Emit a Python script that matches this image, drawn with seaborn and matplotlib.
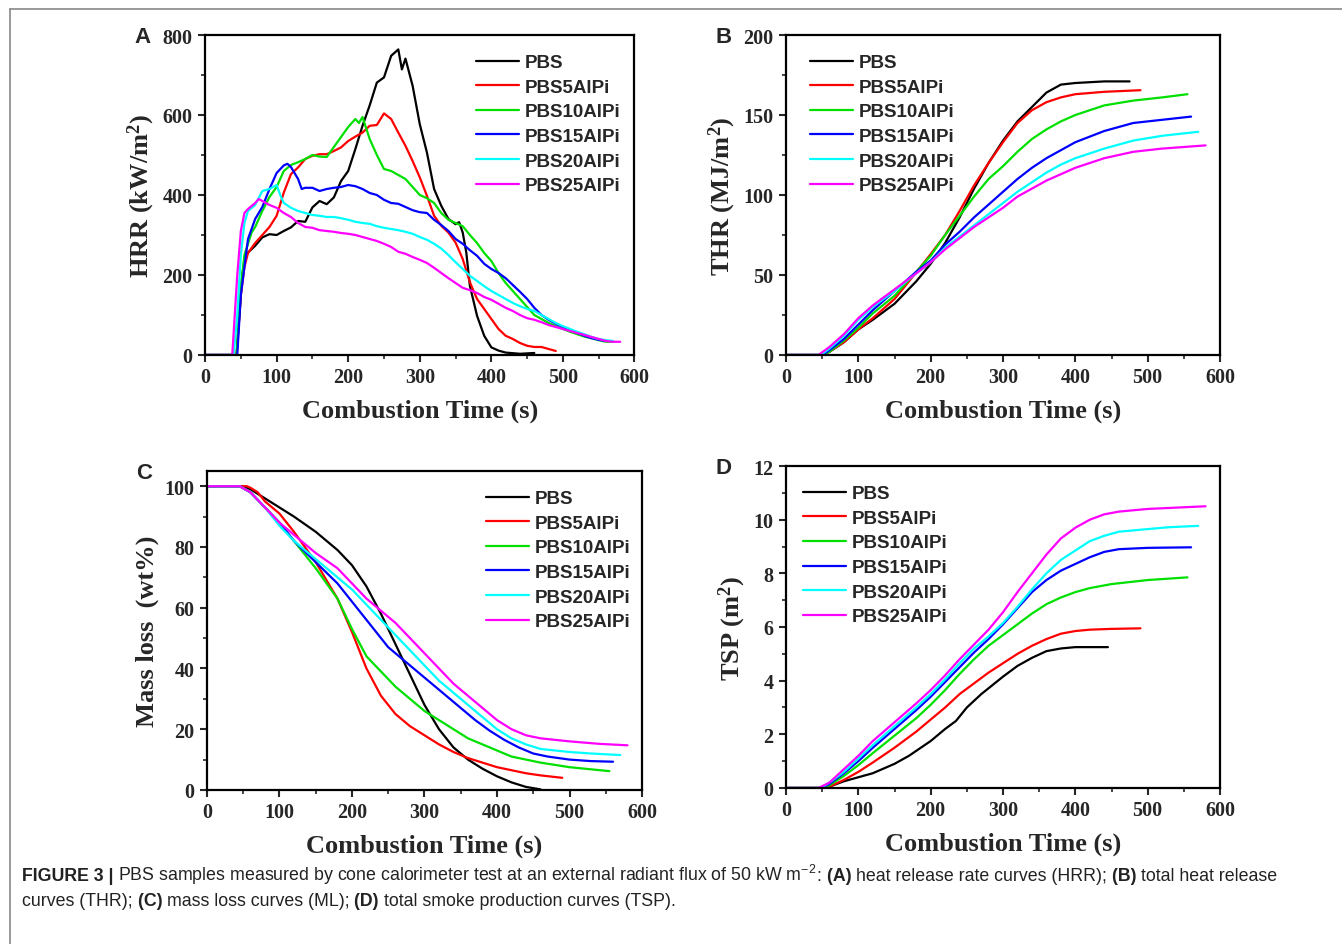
import seaborn as sns
import matplotlib
matplotlib.use("Agg")
import matplotlib.pyplot as plt
from matplotlib.lines import Line2D
from matplotlib.ticker import MultipleLocator
import pandas as pd

sns.set_theme(style="ticks")
plt.rcParams['font.family'] = ['Liberation Serif', 'DejaVu Serif']
plt.rcParams['mathtext.default'] = 'regular'

# sample names and colours
samples = ['PBS', 'PBS5AlPi', 'PBS10AlPi', 'PBS15AlPi', 'PBS20AlPi', 'PBS25AlPi']
colors = ['black', '#ff0000', '#00e000', '#0000ff', '#00ffff', '#ff00ff']

# (A) heat release rate, (time s, HRR kW/m2)
hrr_pbs = [(0, 0), (44, 0), (48, 100), (52, 200), (56, 245), (60, 256), (70, 273), (80, 294), (90, 302),
           (100, 300), (110, 310), (120, 319), (130, 335), (140, 333), (150, 369), (160, 385), (170, 377),
           (180, 394), (190, 435), (200, 460), (210, 515), (220, 573), (230, 624), (240, 681), (250, 694),
           (260, 748), (270, 764), (275, 714), (280, 741), (290, 673), (300, 577), (310, 506), (320, 415),
           (330, 373), (340, 340), (350, 327), (355, 332), (360, 306), (365, 256), (370, 173), (380, 98),
           (390, 48), (400, 19), (410, 11), (420, 6), (440, 3), (460, 5)]
hrr_5 = [(0, 0), (44, 0), (50, 150), (55, 220), (60, 255), (70, 280), (80, 300), (90, 320), (100, 348),
         (110, 406), (120, 452), (130, 469), (140, 490), (150, 498), (160, 502), (170, 502), (180, 510),
         (190, 519), (200, 535), (210, 546), (220, 556), (230, 573), (240, 575), (250, 604), (260, 590),
         (270, 556), (280, 523), (290, 485), (300, 444), (310, 398), (320, 348), (330, 323), (340, 306),
         (350, 281), (360, 240), (370, 182), (380, 140), (390, 115), (400, 90), (410, 65), (420, 48),
         (430, 40), (440, 30), (450, 23), (460, 20), (470, 20), (480, 15), (490, 10)]
hrr_10 = [(0, 0), (44, 0), (50, 170), (55, 250), (65, 306), (70, 320), (80, 360), (90, 395), (100, 420),
          (110, 460), (120, 475), (130, 482), (140, 490), (150, 500), (160, 496), (170, 495), (180, 520),
          (190, 545), (200, 570), (210, 590), (215, 580), (220, 595), (230, 540), (240, 500), (250, 465),
          (260, 460), (270, 450), (280, 440), (290, 420), (300, 400), (310, 392), (320, 380), (330, 355),
          (340, 338), (350, 330), (360, 322), (370, 300), (380, 280), (390, 255), (400, 235), (410, 205),
          (420, 180), (430, 160), (440, 140), (450, 120), (460, 100), (470, 90), (480, 80), (490, 72),
          (500, 65), (510, 58), (520, 52), (530, 46), (540, 42), (550, 37), (560, 33), (570, 33)]
hrr_15 = [(0, 0), (45, 0), (50, 150), (60, 290), (70, 340), (80, 370), (90, 415), (100, 455), (110, 474),
          (115, 478), (120, 470), (130, 440), (135, 415), (140, 418), (150, 418), (160, 410), (170, 415),
          (180, 418), (190, 420), (200, 425), (210, 422), (220, 415), (230, 405), (240, 400), (250, 388),
          (260, 380), (270, 378), (280, 370), (290, 362), (300, 357), (310, 355), (320, 338), (330, 325),
          (340, 310), (350, 290), (360, 278), (370, 262), (380, 248), (390, 228), (400, 215), (410, 205),
          (420, 192), (430, 175), (440, 158), (450, 140), (460, 118), (470, 100), (480, 88), (490, 78),
          (500, 70), (510, 62), (520, 55), (530, 48), (540, 42), (550, 38), (560, 35)]
hrr_20 = [(0, 0), (40, 0), (45, 100), (50, 250), (55, 330), (60, 360), (70, 375), (80, 410), (90, 415),
          (100, 425), (105, 400), (110, 380), (120, 368), (130, 360), (140, 355), (150, 350), (160, 348),
          (170, 345), (180, 345), (190, 342), (200, 338), (210, 333), (220, 330), (230, 328), (240, 322),
          (250, 318), (260, 315), (270, 312), (280, 308), (290, 303), (300, 295), (310, 288), (320, 278),
          (330, 266), (340, 250), (350, 232), (360, 215), (370, 198), (380, 185), (390, 172), (400, 160),
          (410, 150), (420, 140), (430, 130), (440, 122), (450, 115), (460, 110), (470, 100), (480, 90),
          (490, 80), (500, 72), (510, 65), (520, 58), (530, 52), (540, 45), (550, 40), (560, 37), (570, 35)]
hrr_25 = [(0, 0), (38, 0), (45, 200), (50, 310), (55, 355), (60, 365), (70, 380), (75, 390), (80, 385),
          (90, 375), (100, 368), (110, 355), (120, 345), (130, 330), (140, 320), (150, 318), (160, 312),
          (170, 310), (180, 308), (190, 305), (200, 303), (210, 300), (220, 295), (230, 290), (240, 285),
          (250, 278), (260, 270), (270, 258), (280, 253), (290, 245), (300, 238), (310, 230), (320, 218),
          (330, 205), (340, 192), (350, 180), (360, 168), (370, 162), (380, 155), (390, 145), (400, 138),
          (410, 128), (420, 118), (430, 110), (440, 100), (450, 92), (460, 88), (470, 82), (480, 75),
          (490, 70), (500, 65), (510, 60), (520, 55), (530, 50), (540, 45), (550, 40), (560, 35), (570, 33),
          (580, 33)]

# (B) total heat release, (time s, THR MJ/m2)
thr_pbs = [(0, 0), (50, 0), (60, 2), (80, 8), (100, 16), (120, 22), (150, 32), (180, 46), (200, 57), (220, 70),
           (240, 86), (260, 104), (280, 120), (300, 134), (320, 146), (340, 155), (360, 164), (380, 169),
           (400, 170), (440, 171), (475, 171)]
thr_5 = [(0, 0), (50, 0), (60, 2), (80, 8), (100, 16), (120, 23), (150, 35), (170, 46), (200, 63), (220, 75),
         (240, 90), (260, 106), (280, 120), (300, 133), (320, 145), (340, 153), (360, 158), (380, 161),
         (400, 163), (440, 164.5), (490, 165.5)]
thr_10 = [(0, 0), (50, 0), (60, 2), (80, 9), (100, 17), (120, 26), (150, 37), (170, 47), (200, 62), (220, 75),
          (240, 87), (260, 99), (280, 110), (300, 118), (320, 127), (340, 135), (360, 141), (380, 146),
          (400, 150), (440, 156), (480, 159), (520, 161), (555, 163)]
thr_15 = [(0, 0), (50, 0), (60, 3), (80, 10), (100, 19), (120, 28), (150, 40), (180, 52), (200, 59), (220, 69),
          (240, 77), (260, 86), (280, 94), (300, 102), (320, 110), (340, 117), (360, 123), (380, 128),
          (400, 133), (440, 140), (480, 145), (520, 147), (560, 149)]
thr_20 = [(0, 0), (48, 0), (60, 4), (80, 12), (100, 22), (120, 30), (150, 40), (180, 51), (200, 58), (220, 67),
          (240, 74), (260, 81), (280, 88), (300, 95), (320, 102), (340, 108), (360, 114), (380, 119),
          (400, 123), (440, 129), (480, 134), (520, 137), (570, 139.5)]
thr_25 = [(0, 0), (45, 0), (60, 5), (80, 13), (100, 23), (120, 31), (150, 41), (180, 51), (200, 58), (220, 66),
          (240, 73), (260, 80), (280, 86), (300, 92), (320, 99), (340, 104), (360, 109), (380, 113),
          (400, 117), (440, 123), (480, 127), (520, 129), (580, 131)]

# (C) mass loss, (time s, wt%)
ml_pbs = [(0, 100), (50, 100), (60, 99), (80, 96), (100, 93), (120, 90), (150, 85), (180, 79), (200, 74),
          (220, 67), (240, 58), (260, 48), (280, 38), (300, 28), (320, 20), (340, 14), (360, 10), (380, 7),
          (400, 4.5), (420, 2.5), (440, 1), (460, 0.2)]
ml_5 = [(0, 100), (55, 100), (60, 99.5), (70, 98), (80, 95), (100, 91), (120, 85), (150, 75), (180, 63),
        (200, 52), (220, 40), (240, 31), (260, 25), (280, 21), (300, 18), (320, 15), (340, 12.5), (360, 10.5),
        (380, 9), (400, 7.5), (420, 6.5), (440, 5.5), (460, 4.8), (490, 4)]
ml_10 = [(0, 100), (45, 100), (60, 98), (80, 93), (100, 88), (120, 82), (150, 73), (180, 63), (200, 53),
         (220, 44), (240, 39), (260, 34), (280, 30), (300, 26), (320, 23), (340, 20), (360, 17), (380, 15),
         (400, 13), (420, 11), (440, 10), (460, 9), (500, 7.5), (555, 6.2)]
ml_15 = [(0, 100), (45, 100), (60, 98), (80, 93), (100, 88), (120, 82), (150, 75), (180, 68), (200, 62),
         (220, 56), (240, 50), (250, 47), (270, 43), (290, 39), (310, 35), (330, 31), (350, 27), (370, 23),
         (390, 19.5), (410, 16.5), (430, 14), (450, 12), (470, 11), (500, 10), (530, 9.5), (560, 9.3)]
ml_20 = [(0, 100), (45, 100), (60, 98), (80, 93), (100, 87), (120, 82), (150, 76), (180, 70), (200, 66),
         (220, 61), (240, 56), (260, 51), (280, 46), (300, 41), (320, 36), (340, 32), (360, 28), (380, 24),
         (400, 20), (420, 17), (440, 15), (460, 13.5), (500, 12.5), (530, 12), (570, 11.5)]
ml_25 = [(0, 100), (45, 100), (60, 98), (80, 93), (100, 88), (120, 84), (150, 78), (180, 73), (200, 68),
         (220, 63), (240, 59), (260, 55), (280, 50), (300, 45), (320, 40), (340, 35), (360, 31), (380, 27),
         (400, 23), (420, 20), (440, 18), (460, 17), (500, 16), (540, 15.2), (580, 14.7)]

# (D) total smoke production, (time s, m2)
tsp_pbs = [(0, 0), (50, 0), (60, 0.05), (80, 0.25), (100, 0.4), (120, 0.55), (150, 0.9), (170, 1.2), (200, 1.75),
           (220, 2.2), (235, 2.5), (250, 3.0), (270, 3.5), (300, 4.15), (320, 4.55), (340, 4.85), (360, 5.1),
           (380, 5.2), (400, 5.25), (445, 5.25)]
tsp_5 = [(0, 0), (50, 0), (60, 0.05), (80, 0.3), (100, 0.6), (120, 0.95), (150, 1.5), (180, 2.1), (200, 2.55),
         (220, 3.0), (240, 3.5), (260, 3.9), (280, 4.3), (300, 4.65), (320, 5.0), (340, 5.3), (360, 5.55),
         (380, 5.75), (400, 5.85), (420, 5.9), (450, 5.93), (490, 5.95)]
tsp_10 = [(0, 0), (50, 0), (60, 0.1), (80, 0.45), (100, 0.85), (120, 1.3), (150, 1.95), (180, 2.6), (200, 3.1),
          (220, 3.65), (240, 4.25), (260, 4.8), (280, 5.3), (300, 5.7), (320, 6.1), (340, 6.5), (360, 6.85),
          (380, 7.1), (400, 7.3), (420, 7.45), (450, 7.6), (500, 7.75), (555, 7.85)]
tsp_15 = [(0, 0), (48, 0), (60, 0.15), (80, 0.55), (100, 1.0), (120, 1.5), (150, 2.2), (180, 2.9), (200, 3.4),
          (220, 3.95), (240, 4.5), (260, 5.05), (280, 5.55), (300, 6.1), (320, 6.7), (340, 7.3), (360, 7.75),
          (380, 8.1), (400, 8.35), (420, 8.6), (440, 8.8), (460, 8.9), (500, 8.95), (560, 8.97)]
tsp_20 = [(0, 0), (48, 0), (60, 0.2), (80, 0.6), (100, 1.1), (120, 1.6), (150, 2.3), (180, 3.0), (200, 3.5),
          (220, 4.05), (240, 4.65), (260, 5.2), (280, 5.65), (300, 6.15), (320, 6.75), (340, 7.4), (360, 8.0),
          (380, 8.5), (400, 8.85), (420, 9.2), (440, 9.4), (460, 9.55), (500, 9.65), (530, 9.72), (570, 9.77)]
tsp_25 = [(0, 0), (45, 0), (60, 0.2), (80, 0.7), (100, 1.2), (120, 1.75), (150, 2.45), (180, 3.15), (200, 3.65),
          (220, 4.2), (240, 4.8), (260, 5.35), (280, 5.9), (300, 6.55), (320, 7.3), (340, 8.0), (360, 8.7),
          (380, 9.3), (400, 9.7), (420, 10.0), (440, 10.2), (460, 10.3), (500, 10.4), (540, 10.45), (580, 10.5)]


def to_frame(series):
    rows = []
    for name, pts in zip(samples, series):
        for t, v in pts:
            rows.append((name, t, v))
    return pd.DataFrame(rows, columns=['sample', 't', 'v'])


fig = plt.figure(figsize=(13.42, 9.45), dpi=100)

# left/bottom/width/height of each panel, in figure fraction
panels = [
    dict(rect=[0.1528, 0.6233, 0.3200, 0.3386], data=[hrr_pbs, hrr_5, hrr_10, hrr_15, hrr_20, hrr_25],
         ylim=(0, 800), ymaj=200, ymin=100, ylabel='HRR (kW/m$^{2}$)', letter='A',
         leg=(0.613, 0.964)),
    dict(rect=[0.5857, 0.6233, 0.3234, 0.3386], data=[thr_pbs, thr_5, thr_10, thr_15, thr_20, thr_25],
         ylim=(0, 200), ymaj=50, ymin=25, ylabel='THR (MJ/m$^{2}$)', letter='B',
         leg=(0.038, 0.964)),
    dict(rect=[0.1542, 0.1630, 0.3242, 0.3375], data=[ml_pbs, ml_5, ml_10, ml_15, ml_20, ml_25],
         ylim=(0, 105), ymaj=20, ymin=10, ylabel='Mass loss  (wt%)', letter='C',
         leg=(0.624, 0.964)),
    dict(rect=[0.5857, 0.1651, 0.3234, 0.3407], data=[tsp_pbs, tsp_5, tsp_10, tsp_15, tsp_20, tsp_25],
         ylim=(0, 12), ymaj=2, ymin=1, ylabel='TSP (m$^{2}$)', letter='D',
         leg=(0.022, 0.964)),
]

for p in panels:
    ax = fig.add_axes(p['rect'])
    df = to_frame(p['data'])
    sns.lineplot(data=df, x='t', y='v', hue='sample', hue_order=samples, palette=colors,
                 estimator=None, sort=False, linewidth=1.6, ax=ax)
    ax.set_xlim(0, 600)
    ax.set_ylim(*p['ylim'])
    ax.xaxis.set_major_locator(MultipleLocator(100))
    ax.xaxis.set_minor_locator(MultipleLocator(50))
    ax.yaxis.set_major_locator(MultipleLocator(p['ymaj']))
    ax.yaxis.set_minor_locator(MultipleLocator(p['ymin']))
    ax.tick_params(which='major', direction='out', length=5, width=1.5, labelsize=14.5, pad=4)
    ax.tick_params(which='minor', direction='out', length=3, width=1.2)
    for lab in ax.get_xticklabels() + ax.get_yticklabels():
        lab.set_fontweight('bold')
    for s in ax.spines.values():
        s.set_linewidth(1.6)
        s.set_color('black')
    ax.set_xlabel('Combustion Time (s)', fontsize=19, fontweight='bold', labelpad=8)
    ax.set_ylabel(p['ylabel'], fontsize=19, fontweight='bold', labelpad=4)
    ax.legend(loc='upper left', bbox_to_anchor=p['leg'], frameon=False, handlelength=2.3,
              handletextpad=0.3, labelspacing=0.4, borderaxespad=0,
              prop=dict(family='Liberation Sans', weight='bold', size=13.5))
    ax.text(-0.145, 0.995, p['letter'], transform=ax.transAxes, ha='center', va='center',
            fontsize=16, fontweight='bold', family='Liberation Sans')

# thin grey frame at top and left of the figure
fig.add_artist(Line2D([10 / 1342, 1], [1 - 10 / 945, 1 - 10 / 945], color='#888888', lw=1.2))
fig.add_artist(Line2D([10 / 1342, 10 / 1342], [0, 1 - 10 / 945], color='#888888', lw=1.2))


# caption, mixing bold and normal runs
def caption_line(x, y, parts, size=12.8):
    r = fig.canvas.get_renderer()
    for txt, bold in parts:
        t = fig.text(x, y, txt, fontsize=size, fontweight='bold' if bold else 'normal',
                     family='Liberation Sans', va='baseline', color='#222222')
        x += t.get_window_extent(r).width / fig.bbox.width


caption_line(22 / 1342, 1 - 881 / 945, [
    ('FIGURE 3 | ', True),
    ('PBS samples measured by cone calorimeter test at an external radiant flux of 50 kW m$^{-2}$', False),
    (': ', False),
    ('(A) ', True), ('heat release rate curves (HRR); ', False),
    ('(B) ', True), ('total heat release', False)])
caption_line(22 / 1342, 1 - 906 / 945, [
    ('curves (THR); ', False), ('(C) ', True), ('mass loss curves (ML); ', False),
    ('(D) ', True), ('total smoke production curves (TSP).', False)])

fig.savefig('out.png', dpi=100)
